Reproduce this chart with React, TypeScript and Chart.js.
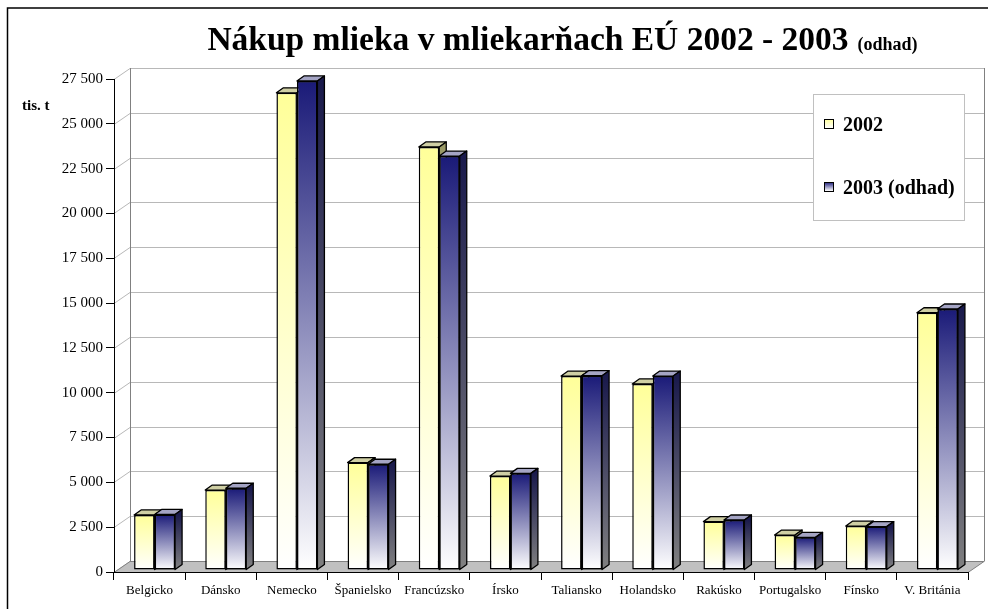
import React, { useEffect, useRef } from 'react';
import { Chart, registerables } from 'chart.js';

Chart.register(...registerables);

const categories = ['Belgicko', 'Dánsko', 'Nemecko', 'Španielsko', 'Francúzsko', 'Írsko', 'Taliansko', 'Holandsko', 'Rakúsko', 'Portugalsko', 'Fínsko', 'V. Británia'];
const series2002 = [3070, 4460, 26620, 5990, 23600, 5240, 10820, 10380, 2700, 1950, 2450, 14350];
const series2003 = [3100, 4560, 27280, 5900, 23090, 5390, 10840, 10820, 2790, 1820, 2420, 14560];
const seriesLabels = ['2002', '2003 (odhad)'];
const yMin = 0;
const yMax = 27500;
const yStep = 2500;
const titleMain = 'Nákup mlieka v mliekarňach EÚ 2002 - 2003';
const titleSub = '(odhad)';
const unitLabel = 'tis. t';

const FONT = '"Liberation Serif", "Times New Roman", serif';
const topColors = ['#ffff99', '#1a1a78'];
const topFaceColors = ['#cfcfa4', '#a4a4c4'];
const sideTopColors = ['#9a9a66', '#1a1a4c'];
const WALL_DX = 16;
const WALL_DY = -11;
const BAR_SHIFT_X = 5;
const BAR_SHIFT_Y = -2;
const BAR_DX = 7;
const BAR_DY = -5;

function fmt(v: number) {
  return String(v).replace(/\B(?=(\d{3})+(?!\d))/g, ' ');
}

function barGradient(k: number) {
  return (c: any) => {
    const chart = c.chart;
    if (!chart.chartArea || c.type !== 'data') return topColors[k];
    const ys = chart.scales.y;
    const top = ys.getPixelForValue(c.raw);
    const bottom = ys.getPixelForValue(0);
    const g = chart.ctx.createLinearGradient(0, top, 0, bottom);
    g.addColorStop(0, topColors[k]);
    g.addColorStop(1, '#ffffff');
    return g;
  };
}

function drawFaces(ctx: CanvasRenderingContext2D, el: any, k: number) {
  const p = el.getProps(['x', 'y', 'width', 'base'], true);
  const left = p.x - p.width / 2;
  const right = p.x + p.width / 2;
  const top = p.y;
  const base = p.base;
  ctx.save();
  ctx.lineWidth = 1.3;
  ctx.strokeStyle = '#000';
  ctx.lineJoin = 'round';
  // top face
  ctx.beginPath();
  ctx.moveTo(left, top);
  ctx.lineTo(left + BAR_DX, top + BAR_DY);
  ctx.lineTo(right + BAR_DX, top + BAR_DY);
  ctx.lineTo(right, top);
  ctx.closePath();
  ctx.fillStyle = topFaceColors[k];
  ctx.fill();
  ctx.stroke();
  // side face
  const g = ctx.createLinearGradient(0, top, 0, base);
  g.addColorStop(0, sideTopColors[k]);
  g.addColorStop(1, '#808080');
  ctx.beginPath();
  ctx.moveTo(right, top);
  ctx.lineTo(right + BAR_DX, top + BAR_DY);
  ctx.lineTo(right + BAR_DX, base + BAR_DY);
  ctx.lineTo(right, base);
  ctx.closePath();
  ctx.fillStyle = g;
  ctx.fill();
  ctx.stroke();
  ctx.restore();
}

const threeD = {
  id: 'threeD',
  beforeDraw(chart: any) {
    const { ctx, chartArea: a, scales } = chart;
    const ys = scales.y;
    ctx.save();
    ctx.fillStyle = '#ffffff';
    ctx.fillRect(0, 0, chart.width, chart.height);
    // gridlines on side + back wall
    ctx.strokeStyle = '#b8b8b8';
    ctx.lineWidth = 1;
    ys.ticks.forEach((t: any) => {
      const py = Math.round(ys.getPixelForValue(t.value)) + 0.5;
      ctx.beginPath();
      ctx.moveTo(a.left, py);
      ctx.lineTo(a.left + WALL_DX, py + WALL_DY);
      ctx.lineTo(a.right + WALL_DX, py + WALL_DY);
      ctx.stroke();
    });
    // floor
    const b = a.bottom + 0.5;
    ctx.beginPath();
    ctx.moveTo(a.left, b);
    ctx.lineTo(a.right, b);
    ctx.lineTo(a.right + WALL_DX, b + WALL_DY);
    ctx.lineTo(a.left + WALL_DX, b + WALL_DY);
    ctx.closePath();
    ctx.fillStyle = '#c0c0c0';
    ctx.fill();
    ctx.strokeStyle = '#808080';
    ctx.stroke();
    // back wall verticals
    ctx.strokeStyle = '#808080';
    ctx.beginPath();
    ctx.moveTo(a.left + WALL_DX + 0.5, a.top + WALL_DY);
    ctx.lineTo(a.left + WALL_DX + 0.5, b + WALL_DY);
    ctx.moveTo(a.right + WALL_DX + 0.5, a.top + WALL_DY);
    ctx.lineTo(a.right + WALL_DX + 0.5, b + WALL_DY);
    ctx.stroke();
    ctx.restore();
  },
  beforeDatasetsDraw(chart: any) {
    chart.ctx.save();
    chart.ctx.translate(BAR_SHIFT_X, BAR_SHIFT_Y);
  },
  afterDatasetsDraw(chart: any) {
    const ctx = chart.ctx;
    const m0 = chart.getDatasetMeta(0);
    const m1 = chart.getDatasetMeta(1);
    for (let i = 0; i < categories.length; i++) {
      drawFaces(ctx, m0.data[i], 0);
      m1.data[i].draw(ctx);
      drawFaces(ctx, m1.data[i], 1);
    }
    ctx.restore();
  },
  afterDraw(chart: any) {
    const { ctx } = chart;
    ctx.save();
    // title
    ctx.fillStyle = '#000';
    ctx.textBaseline = 'alphabetic';
    ctx.textAlign = 'left';
    ctx.font = `bold 33.5px ${FONT}`;
    const wMain = ctx.measureText(titleMain).width;
    ctx.font = `bold 18px ${FONT}`;
    const wSub = ctx.measureText(titleSub).width;
    const gap = 9;
    const x0 = 562.5 - (wMain + gap + wSub) / 2;
    ctx.font = `bold 33.5px ${FONT}`;
    ctx.fillText(titleMain, x0, 50);
    ctx.font = `bold 18px ${FONT}`;
    ctx.fillText(titleSub, x0 + wMain + gap, 50);
    // unit label
    ctx.font = `bold 15px ${FONT}`;
    ctx.fillText(unitLabel, 22, 110);
    // legend box
    ctx.fillStyle = '#ffffff';
    ctx.fillRect(813.5, 94.5, 151, 126);
    ctx.strokeStyle = '#c0c0c0';
    ctx.lineWidth = 1;
    ctx.strokeRect(813.5, 94.5, 151, 126);
    const itemY = [131, 194];
    seriesLabels.forEach((lab, k) => {
      const sy = itemY[k] - 12;
      const g = ctx.createLinearGradient(0, sy, 0, sy + 9);
      g.addColorStop(0, topColors[k]);
      g.addColorStop(1, '#ffffff');
      ctx.fillStyle = g;
      ctx.fillRect(824.5, sy + 0.5, 9, 9);
      ctx.strokeStyle = '#000';
      ctx.strokeRect(824.5, sy + 0.5, 9, 9);
      ctx.fillStyle = '#000';
      ctx.font = `bold 20px ${FONT}`;
      ctx.fillText(lab, 843, itemY[k]);
    });
    // outer border
    ctx.strokeStyle = '#000';
    ctx.lineWidth = 1.5;
    ctx.strokeRect(7.5, 8, 1200, 1200);
    ctx.restore();
  },
};

export default function App() {
  const ref = useRef<HTMLCanvasElement | null>(null);
  useEffect(() => {
    if (!ref.current) return;
    Chart.defaults.font.family = FONT;
    const chart = new Chart(ref.current, {
      type: 'bar',
      data: {
        labels: categories,
        datasets: [
          {
            label: seriesLabels[0],
            data: series2002,
            backgroundColor: barGradient(0),
            borderColor: '#000',
            borderWidth: 1.5,
            borderSkipped: false,
            categoryPercentage: 0.576,
            barPercentage: 1,
            clip: false,
          } as any,
          {
            label: seriesLabels[1],
            data: series2003,
            backgroundColor: barGradient(1),
            borderColor: '#000',
            borderWidth: 1.5,
            borderSkipped: false,
            categoryPercentage: 0.576,
            barPercentage: 1,
            clip: false,
          } as any,
        ],
      },
      options: {
        responsive: false,
        animation: false,
        events: [],
        layout: { padding: { top: 79, right: 20, left: 0, bottom: 0 } },
        plugins: {
          legend: { display: false },
          title: { display: false },
          tooltip: { enabled: false },
        },
        scales: {
          x: {
            offset: true,
            grid: { drawOnChartArea: false, drawTicks: true, tickLength: 8, color: '#000', offset: true },
            border: { display: true, color: '#000' },
            ticks: { color: '#000', font: { family: FONT, size: 13 }, padding: 3, maxRotation: 0, autoSkip: false },
            afterFit: (s: any) => { s.height = 37; },
          },
          y: {
            min: yMin,
            max: yMax,
            ticks: {
              stepSize: yStep,
              color: '#000',
              font: { family: FONT, size: 15 },
              padding: 3,
              callback: (v: any) => fmt(Number(v)),
            },
            grid: { drawOnChartArea: false, drawTicks: true, tickLength: 8, color: '#000' },
            border: { display: true, color: '#000' },
            afterFit: (s: any) => { s.width = 114; },
          },
        },
      } as any,
      plugins: [threeD],
    });
    return () => chart.destroy();
  }, []);
  return (
    <canvas
      ref={ref}
      width={988}
      height={609}
      style={{ position: 'absolute', left: 0, top: 0, width: 988, height: 609, display: 'block' }}
    />
  );
}
